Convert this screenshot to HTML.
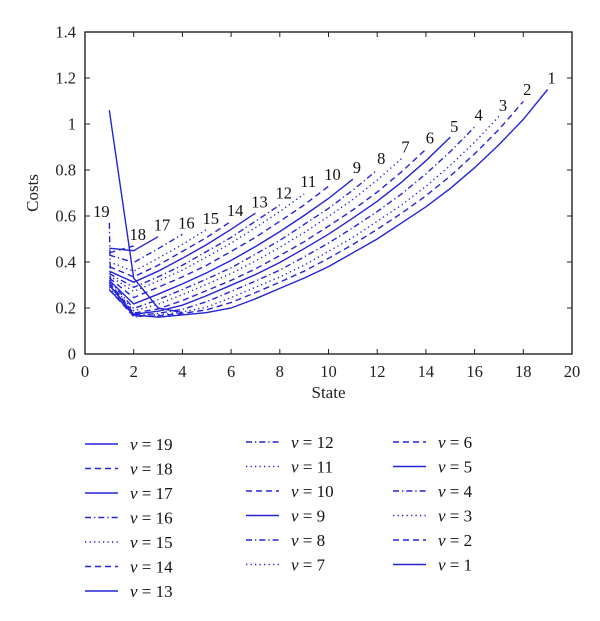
<!DOCTYPE html>
<html><head><meta charset="utf-8"><style>
html,body{margin:0;padding:0;background:#fff;}
svg{display:block;font-family:"Liberation Serif",serif;}
</style></head><body>
<svg id="chart" width="600" height="621" viewBox="0 0 600 621">
<g id="axes"></g>
<g id="series"></g>
<g id="legend"></g>
</svg>
<script>
const xTicks = [0,2,4,6,8,10,12,14,16,18,20];
const yTicks = [0,0.2,0.4,0.6,0.8,1,1.2,1.4];
const nuLabels = [1,2,3,4,5,6,7,8,9,10,11,12,13,14,15,16,17,18,19];
const styles = ["solid","dashed","dotted","dashdot","solid","dashed","dotted","dashdot","solid","dashed","dotted","dashdot","solid","dashed","dotted","dashdot","solid","dashed","solid"];
const cost1 = [0.28,0.17,0.16,0.17,0.18,0.20,0.24,0.285,0.33,0.38,0.44,0.50,0.57,0.64,0.72,0.81,0.91,1.02,1.15];
const cost2 = [0.28,0.164,0.166,0.176,0.192,0.224,0.267,0.312,0.36,0.416,0.476,0.542,0.612,0.688,0.774,0.87,0.976,1.098];
const cost3 = [0.29,0.161,0.171,0.182,0.204,0.245,0.29,0.335,0.386,0.446,0.507,0.577,0.648,0.729,0.82,0.921,1.033];
const cost4 = [0.30,0.167,0.177,0.194,0.228,0.272,0.317,0.365,0.422,0.482,0.549,0.619,0.696,0.783,0.88,0.987];
const cost5 = [0.30,0.173,0.186,0.212,0.254,0.299,0.345,0.398,0.458,0.521,0.591,0.664,0.747,0.84,0.943];
const cost6 = [0.31,0.178,0.196,0.232,0.276,0.32,0.37,0.428,0.488,0.556,0.626,0.704,0.792,0.89];
const cost7 = [0.31,0.188,0.216,0.258,0.303,0.35,0.404,0.464,0.528,0.598,0.672,0.756,0.85];
const cost8 = [0.32,0.198,0.236,0.28,0.326,0.375,0.434,0.494,0.563,0.633,0.712,0.80];
const cost9 = [0.32,0.218,0.26,0.305,0.353,0.407,0.467,0.532,0.602,0.676,0.76];
const cost10 = [0.33,0.245,0.29,0.335,0.386,0.446,0.507,0.577,0.648,0.729];
const cost11 = [0.34,0.272,0.317,0.365,0.422,0.482,0.549,0.619,0.696];
const cost12 = [0.35,0.29,0.335,0.386,0.446,0.507,0.577,0.648];
const cost13 = [0.36,0.312,0.36,0.416,0.476,0.542,0.612];
const cost14 = [0.38,0.335,0.386,0.446,0.507,0.577];
const cost15 = [0.40,0.36,0.416,0.476,0.542];
const cost16 = [0.43,0.398,0.458,0.521];
const cost17 = [0.46,0.449,0.51];
const cost18 = [0.44,0.47];
const cost19 = [1.06,0.33,0.20,0.18];
const allCosts = [cost1,cost2,cost3,cost4,cost5,cost6,cost7,cost8,cost9,cost10,cost11,cost12,cost13,cost14,cost15,cost16,cost17,cost18,cost19];
const labelCosts = [1.15,1.10,1.03,0.99,0.94,0.89,0.85,0.80,0.76,0.73,0.70,0.65,0.61,0.575,0.54,0.52,0.51,0.47,0.57];
const legendOrder = [19,18,17,16,15,14,13,12,11,10,9,8,7,6,5,4,3,2,1];

const NS="http://www.w3.org/2000/svg";
const X0=85,X1=572,Y0=354,Y1=32;
const xs=v=>X0+(v/20)*(X1-X0);
const ys=v=>Y0-(v/1.4)*(Y0-Y1);
const BLUE="#2424d8";
function mk(tag,attrs,parent){const e=document.createElementNS(NS,tag);for(const k in attrs)e.setAttribute(k,attrs[k]);parent.appendChild(e);return e;}
function dash(s){return s==="dashed"?"6,4":s==="dotted"?"1.3,3.2":s==="dashdot"?"6,3,1.3,3":"";}

const axes=document.getElementById('axes');
const frame=mk('rect',{x:X0,y:Y1,width:X1-X0,height:Y0-Y1,fill:"none",stroke:"#222","stroke-width":1.4},axes);


xTicks.forEach(t=>{
  const x=xs(t);
  const tk=mk('path',{d:`M${x},${Y0}v-5M${x},${Y1}v5`,stroke:"#222","stroke-width":1},axes);
  
  
  const tl=mk('text',{x:x,y:Y0+23,"text-anchor":"middle","font-size":16.5,fill:"#222"},axes);
  tl.textContent=t;
  
  
});
yTicks.forEach(t=>{
  const y=ys(t);
  const tk=mk('path',{d:`M${X0},${y}h5M${X1},${y}h-5`,stroke:"#222","stroke-width":1},axes);
  
  
  const tl=mk('text',{x:X0-9,y:y+5.5,"text-anchor":"end","font-size":16.5,fill:"#222"},axes);
  tl.textContent=t;
  
  
});
const xt=mk('text',{x:(X0+X1)/2,y:398,"text-anchor":"middle","font-size":17,fill:"#222"},axes);
xt.textContent="State";


const yt=mk('text',{x:0,y:0,"text-anchor":"middle","font-size":17,fill:"#222",transform:`translate(38,${(Y0+Y1)/2}) rotate(-90)`},axes);
yt.textContent="Costs";



const series=document.getElementById('series');
allCosts.forEach((arr,i)=>{
  const nu=nuLabels[i];
  const pts=arr.map((c,j)=>`${xs(j+1).toFixed(1)},${ys(c).toFixed(1)}`).join(" ");
  const pl=mk('polyline',{points:pts,fill:"none",stroke:BLUE,"stroke-width":1.4,"stroke-dasharray":dash(styles[i])},series);
  
  
  const endState = nu===19 ? 1 : arr.length;
  const lbl=mk('text',{x:xs(endState)+(nu===19?-8:4),y:ys(labelCosts[i])-6,"text-anchor":"middle","font-size":16.5,fill:"#111"},series);
  lbl.textContent=nu;
  
  
});
const v19=mk('path',{d:`M${xs(1)},${ys(0.57)}L${xs(1.05)},${ys(0.30)}`,stroke:BLUE,"stroke-width":1.4,"stroke-dasharray":"6,3,1.3,3",fill:"none"},series);



const legend=document.getElementById('legend');
const colX=[85,246,393];
legendOrder.forEach((nu,k)=>{
  const col=k<7?0:(k<13?1:2);
  const row=k<7?k:(k<13?k-7:k-13);
  const y=(col===0?444:442)+row*24.5;
  const idx=nuLabels.indexOf(nu);
  const g=mk('g',{},legend);
  
  
  mk('line',{x1:colX[col],y1:y,x2:colX[col]+33,y2:y,stroke:BLUE,"stroke-width":1.4,"stroke-dasharray":dash(styles[idx])},g);
  const t=mk('text',{x:colX[col]+45,y:y+6,"font-size":17,fill:"#111"},g);
  t.innerHTML='<tspan font-style="italic">ν</tspan> = '+nu;
});
</script>
</body></html>
